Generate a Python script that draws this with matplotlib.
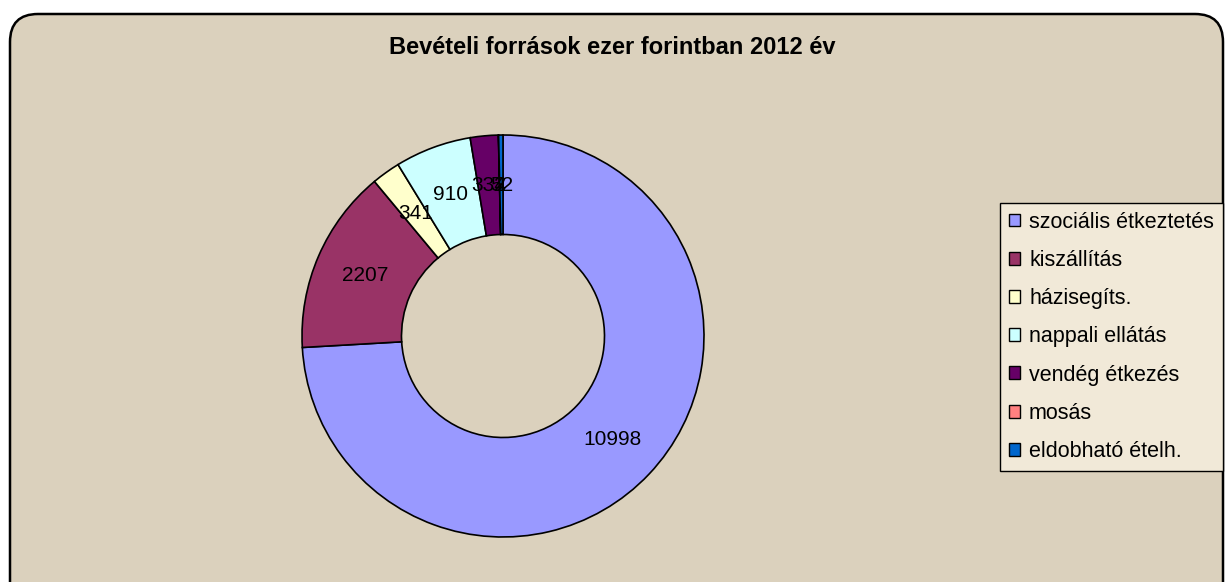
import matplotlib
matplotlib.use('Agg')
import matplotlib.pyplot as plt
from matplotlib.patches import FancyBboxPatch, Patch
import numpy as np

plt.rcParams['font.family'] = ['Liberation Sans', 'DejaVu Sans']

title = "Bevételi források ezer forintban 2012 év"
categories = ["szociális étkeztetés", "kiszállítás", "házisegíts.", "nappali ellátás",
              "vendég étkezés", "mosás", "eldobható ételh."]
values = [10998, 2207, 341, 910, 334, 2, 52]
colors = ["#9999FF", "#993366", "#FFFFCC", "#CCFFFF", "#660066", "#FF8080", "#0066CC"]

W, H = 1226, 582
fig = plt.figure(figsize=(W / 100, H / 100), dpi=100)
fig.patch.set_facecolor('white')

# background frame axes in pixel coordinates
bg = fig.add_axes([0, 0, 1, 1])
bg.set_xlim(0, W)
bg.set_ylim(H, 0)
bg.axis('off')
frame = FancyBboxPatch((10, 14), 1213, 600, boxstyle="round,pad=0,rounding_size=28",
                       facecolor="#DBD1BD", edgecolor="black", linewidth=1.8, zorder=0)
bg.add_patch(frame)
bg.text(612, 47, title, ha='center', va='center', fontsize=17, fontweight='bold')

# donut
cx, cy, R = 503, 336, 203
ax = fig.add_axes([(cx - R) / W, (H - cy - R) / H, 2 * R / W, 2 * R / H])
wedges, _ = ax.pie(values, colors=colors, startangle=90, counterclock=False, radius=1,
                   wedgeprops=dict(width=0.495, edgecolor='black', linewidth=1.2))
ax.set_xlim(-1.01, 1.01)
ax.set_ylim(-1.01, 1.01)
ax.set_aspect('equal')
ax.axis('off')
for w, v in zip(wedges, values):
    ang = np.deg2rad((w.theta1 + w.theta2) / 2)
    r = 0.75
    ax.text(r * np.cos(ang), r * np.sin(ang), str(v), ha='center', va='center', fontsize=15)

handles = [Patch(facecolor=c, edgecolor='black', linewidth=1) for c in colors]
leg = fig.legend(handles, categories, loc='upper left', bbox_to_anchor=(1000 / W, 1 - 203 / H),
                 frameon=True, fancybox=False, edgecolor='black', facecolor='#F1E9D8',
                 fontsize=15.5, handlelength=0.55, handleheight=0.55, handletextpad=0.4,
                 labelspacing=0.8, borderpad=0.4, borderaxespad=0)
leg.get_frame().set_linewidth(1)
leg.get_frame().set_alpha(1)

fig.savefig('out.png', dpi=100, facecolor='white')
